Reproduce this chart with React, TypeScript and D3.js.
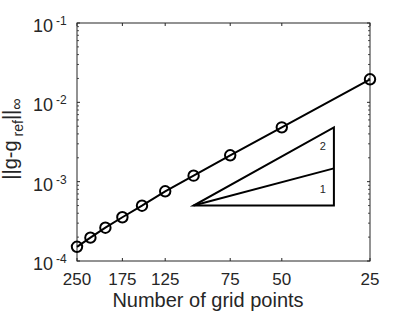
import React from "react";
import * as d3 from "d3";

const gridPoints = [250, 225, 200, 175, 150, 125, 100, 75, 50, 25];
const errors = [1.51e-4, 1.97e-4, 2.63e-4, 3.56e-4, 4.98e-4, 7.56e-4, 1.19e-3, 2.15e-3, 4.84e-3, 1.95e-2];
const xTicks = [250, 175, 125, 75, 50, 25];
const yTickExps = [-4, -3, -2, -1];
const triangleN = [100, 33.2];
const triangleErr = [5e-4, 1.47e-3, 4.84e-3];
const slopeLabels = ["2", "1"];

const W = 409, H = 313;
const L = 77, R = 370, T = 23, B = 261;
const axisColor = "#262626";
const font = "'Liberation Sans', Arial, Helvetica, sans-serif";

export default function App() {
  const x = d3.scaleLog().domain([250, 25]).range([L, R]);
  const y = d3.scaleLog().domain([1e-4, 1e-1]).range([B, T]);
  const line = d3.line<number>().x((_, i) => x(gridPoints[i])).y((d) => y(d));

  const minor: number[] = [];
  for (let e = -4; e < -1; e++) for (let k = 2; k <= 9; k++) minor.push(k * Math.pow(10, e));

  const tl = 3, tlm = 2;
  const xL = x(triangleN[0]), xR = x(triangleN[1]);
  const yB = y(triangleErr[0]), yM = y(triangleErr[1]), yT = y(triangleErr[2]);

  return (
    <svg width={W} height={H} style={{ position: "absolute", left: 0, top: 0, background: "#fff" }} fontFamily={font}>
      <rect x={0} y={0} width={W} height={H} fill="#fff" />
      <rect x={L} y={T} width={R - L} height={B - T} fill="none" stroke={axisColor} strokeWidth={1} />
      {xTicks.map((t) => (
        <g key={"xt" + t}>
          <line x1={x(t)} x2={x(t)} y1={B} y2={B - tl} stroke={axisColor} />
          <line x1={x(t)} x2={x(t)} y1={T} y2={T + tl} stroke={axisColor} />
          <text x={x(t)} y={285} textAnchor="middle" fontSize={17} fill={axisColor}>{t}</text>
        </g>
      ))}
      {yTickExps.map((e) => {
        const v = Math.pow(10, e);
        const yy = y(v);
        return (
          <g key={"yt" + e}>
            <line x1={L} x2={L + tl} y1={yy} y2={yy} stroke={axisColor} />
            <line x1={R} x2={R - tl} y1={yy} y2={yy} stroke={axisColor} />
            <text x={53} y={yy + 9} textAnchor="end" fontSize={18} fill={axisColor}>10</text>
            <text x={56} y={yy + 2} textAnchor="start" fontSize={12} fill={axisColor}>{String(e)}</text>
          </g>
        );
      })}
      {minor.map((v, i) => (
        <g key={"ym" + i}>
          <line x1={L} x2={L + tlm} y1={y(v)} y2={y(v)} stroke={axisColor} strokeWidth={0.8} />
          <line x1={R} x2={R - tlm} y1={y(v)} y2={y(v)} stroke={axisColor} strokeWidth={0.8} />
        </g>
      ))}
      <path d={`M${xL},${yB}L${xR},${yB}L${xR},${yT}Z`} fill="none" stroke="#000" strokeWidth={2} />
      <line x1={xL} y1={yB} x2={xR} y2={yM} stroke="#000" strokeWidth={2} />
      <text x={xR - 11} y={(yT + yM) / 2 + 2} textAnchor="middle" fontSize={11} fill={axisColor}>{slopeLabels[0]}</text>
      <text x={xR - 11} y={(yM + yB) / 2 + 6} textAnchor="middle" fontSize={11} fill={axisColor}>{slopeLabels[1]}</text>
      <path d={line(errors) || ""} fill="none" stroke="#000" strokeWidth={2} />
      {errors.map((v, i) => (
        <circle key={"c" + i} cx={x(gridPoints[i])} cy={y(v)} r={5.2} fill="none" stroke="#000" strokeWidth={2} />
      ))}
      <text x={208} y={307} textAnchor="middle" fontSize={20} fill={axisColor}>Number of grid points</text>
      <text transform={`translate(17,139) rotate(-90)`} textAnchor="middle" fontSize={20} fill={axisColor}>
        <tspan>||g-g</tspan>
        <tspan fontSize={14} dy={6} dx={4}>ref</tspan>
        <tspan dy={-6}>||</tspan>
        <tspan fontSize={16} dy={5}>∞</tspan>
      </text>
    </svg>
  );
}
